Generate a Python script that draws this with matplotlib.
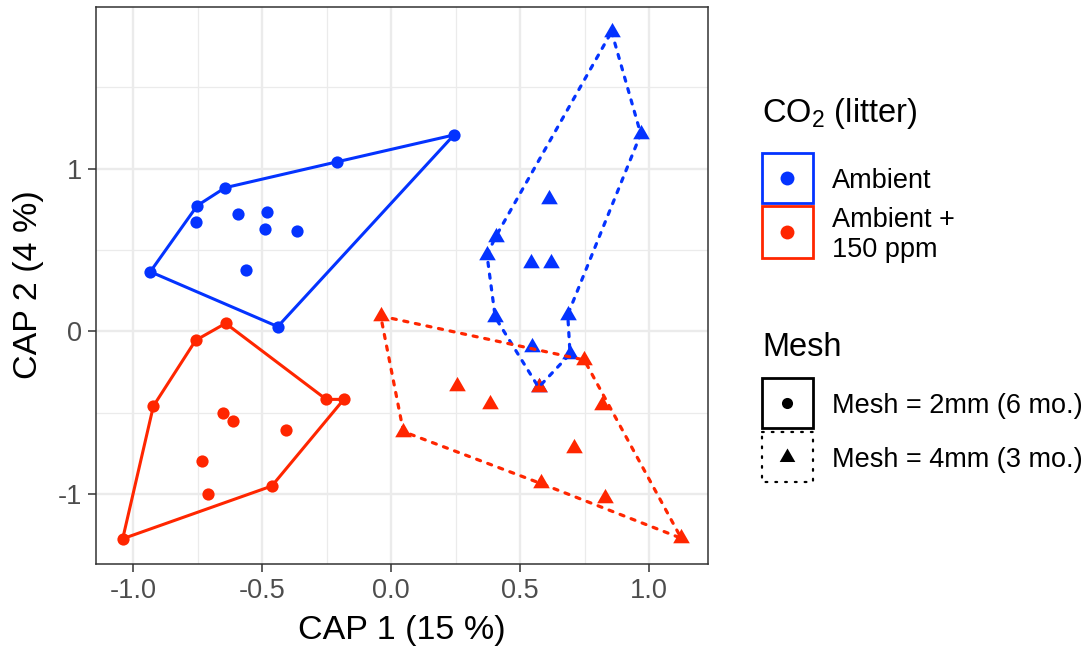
import matplotlib
matplotlib.use("Agg")
import matplotlib.pyplot as plt
from matplotlib.path import Path
from matplotlib.patches import Rectangle
import numpy as np

plt.rcParams['font.family'] = ['Liberation Sans', 'DejaVu Sans']
plt.rcParams['mathtext.fontset'] = 'custom'
plt.rcParams['mathtext.rm'] = 'Liberation Sans'
plt.rcParams['mathtext.it'] = 'Liberation Sans'

# ---- CAP scores ----
# Ambient CO2, 2 mm mesh (6 months)
amb_2mm_x = [0.244, -0.209, -0.643, -0.751, -0.933, -0.439,
             -0.756, -0.594, -0.481, -0.488, -0.364, -0.561]
amb_2mm_y = [1.207, 1.042, 0.883, 0.773, 0.367, 0.030,
             0.671, 0.720, 0.732, 0.628, 0.617, 0.378]
amb_2mm_hull = [0, 1, 2, 3, 4, 5]

# Elevated CO2 (ambient + 150 ppm), 2 mm mesh
elev_2mm_x = [-0.641, -0.757, -0.921, -1.040, -0.462, -0.183, -0.251,
              -0.651, -0.614, -0.408, -0.731, -0.708]
elev_2mm_y = [0.050, -0.054, -0.458, -1.273, -0.949, -0.417, -0.417,
              -0.499, -0.550, -0.605, -0.797, -1.000]
elev_2mm_hull = [0, 1, 2, 3, 4, 5, 6]

# Ambient CO2, 4 mm mesh (3 months)
amb_4mm_x = [0.855, 0.968, 0.685, 0.694, 0.572, 0.404, 0.372, 0.406,
             0.612, 0.543, 0.620, 0.546]
amb_4mm_y = [1.841, 1.213, 0.103, -0.138, -0.343, 0.087, 0.470, 0.583,
             0.814, 0.423, 0.423, -0.093]
amb_4mm_hull = [0, 1, 2, 3, 4, 5, 6, 7]

# Elevated CO2, 4 mm mesh
elev_4mm_x = [-0.040, 0.749, 1.125, 0.580, 0.048,
              0.255, 0.384, 0.572, 0.817, 0.708, 0.829]
elev_4mm_y = [0.095, -0.175, -1.270, -0.933, -0.615,
              -0.333, -0.445, -0.339, -0.451, -0.714, -1.025]
elev_4mm_hull = [0, 1, 2, 3, 4]

x_ticks = [-1.0, -0.5, 0.0, 0.5, 1.0]
x_tick_labels = ['-1.0', '-0.5', '0.0', '0.5', '1.0']
y_ticks = [-1, 0, 1]
y_tick_labels = ['-1', '0', '1']

co2_labels = ['Ambient', 'Ambient +\n150 ppm']
mesh_labels = ['Mesh = 2mm (6 mo.)', 'Mesh = 4mm (3 mo.)']

BLUE = '#0433FF'
RED = '#FF2600'
GRID = '#EBEBEB'
DARK = '#333333'
TICKTXT = '#4D4D4D'

W, H = 1091, 654
fig = plt.figure(figsize=(W / 100, H / 100), dpi=100)

# panel placement in pixels
pl, pr, pt, pb = 95.7, 708.3, 7.3, 564.0
ax = fig.add_axes([pl / W, 1 - pb / H, (pr - pl) / W, (pb - pt) / H])
ax.set_xlim(-1.1446, 1.2298)
ax.set_ylim(-1.428, 1.991)

# equilateral triangle, centred on its centroid
tri = Path([(0, 1), (0.866, -0.5), (-0.866, -0.5), (0, 1)],
           [Path.MOVETO, Path.LINETO, Path.LINETO, Path.CLOSEPOLY])

# grid
for v in [-0.75, -0.25, 0.25, 0.75]:
    ax.axvline(v, color=GRID, lw=0.9, zorder=0)
for v in [-0.5, 0.5, 1.5]:
    ax.axhline(v, color=GRID, lw=0.9, zorder=0)
for v in x_ticks:
    ax.axvline(v, color=GRID, lw=1.7, zorder=0)
for v in y_ticks:
    ax.axhline(v, color=GRID, lw=1.7, zorder=0)

groups = [
    (amb_2mm_x, amb_2mm_y, amb_2mm_hull, BLUE, 'o', 'solid'),
    (amb_4mm_x, amb_4mm_y, amb_4mm_hull, BLUE, tri, 'dotted'),
    (elev_2mm_x, elev_2mm_y, elev_2mm_hull, RED, 'o', 'solid'),
    (elev_4mm_x, elev_4mm_y, elev_4mm_hull, RED, tri, 'dotted'),
]

for gx, gy, hull, col, mk, ls in groups:
    ms = 8.8 if mk == 'o' else 13.8
    ax.plot(gx, gy, linestyle='none', marker=mk, ms=ms, color=col,
            markeredgewidth=0, zorder=3)

for gx, gy, hull, col, mk, ls in groups:
    hx = [gx[i] for i in hull] + [gx[hull[0]]]
    hy = [gy[i] for i in hull] + [gy[hull[0]]]
    if ls == 'solid':
        ax.plot(hx, hy, color=col, lw=2.2, solid_joinstyle='round',
                solid_capstyle='round', zorder=4)
    else:
        ax.plot(hx, hy, color=col, lw=2.3, dashes=(1.3, 2.4),
                dash_capstyle='round', dash_joinstyle='round', zorder=4)

ax.set_xticks(x_ticks)
ax.set_xticklabels(x_tick_labels)
ax.set_yticks(y_ticks)
ax.set_yticklabels(y_tick_labels)
ax.tick_params(axis='both', length=6, width=1.1, color=DARK,
               labelcolor=TICKTXT, labelsize=19.5, pad=4)
for s in ax.spines.values():
    s.set_color(DARK)
    s.set_linewidth(1.1)
    s.set_zorder(6)

fig.text(402 / W, 1 - 631 / H, 'CAP 1 (15 %)', ha='center', va='center',
         fontsize=24.5, color='black')
fig.text(28.5 / W, 1 - 285 / H, 'CAP 2 (4 %)', ha='center', va='center',
         rotation=90, fontsize=24.5, color='black')

# ---- legends, laid out in pixel space ----
lg = fig.add_axes([0, 0, 1, 1], facecolor='none')
lg.set_xlim(0, W)
lg.set_ylim(H, 0)
lg.axis('off')

kx0, kx1 = 761.7, 812.7
kcx = (kx0 + kx1) / 2
txt_x = 831.7

lg.text(762, 121.7, r'CO$_2$ (litter)', fontsize=23.5, va='baseline', ha='left')
co2_keys = [(152.7, 202.7, BLUE), (206.0, 258.3, RED)]
for (y0, y1, col) in co2_keys:
    lg.add_patch(Rectangle((kx0, y0), kx1 - kx0, y1 - y0, fill=False,
                           edgecolor=col, lw=2.0))
    lg.plot([kcx], [(y0 + y1) / 2], marker='o', ms=10, color=col, mew=0)
lg.text(txt_x, 188.3, co2_labels[0], fontsize=19.5, va='baseline', ha='left')
lines = co2_labels[1].split('\n')
lg.text(txt_x, 226.7, lines[0], fontsize=19.5, va='baseline', ha='left')
lg.text(txt_x, 256.7, lines[1], fontsize=19.5, va='baseline', ha='left')

lg.text(762, 356, 'Mesh', fontsize=23.5, va='baseline', ha='left')
lg.add_patch(Rectangle((kx0, 378.3), kx1 - kx0, 50, fill=False,
                       edgecolor='black', lw=2.0))
lg.plot([kcx], [403.3], marker='o', ms=8, color='black', mew=0)
lg.add_patch(Rectangle((kx0, 431.7), kx1 - kx0, 50, fill=False,
                       edgecolor='black', lw=1.6, linestyle=(0, (0.8, 3.6)),
                       capstyle='round'))
lg.plot([kcx], [456.7], marker=tri, ms=13, color='black', mew=0)
lg.text(txt_x, 413.3, mesh_labels[0], fontsize=19.5, va='baseline', ha='left')
lg.text(txt_x, 467.3, mesh_labels[1], fontsize=19.5, va='baseline', ha='left')

fig.savefig('out.png', dpi=100)
